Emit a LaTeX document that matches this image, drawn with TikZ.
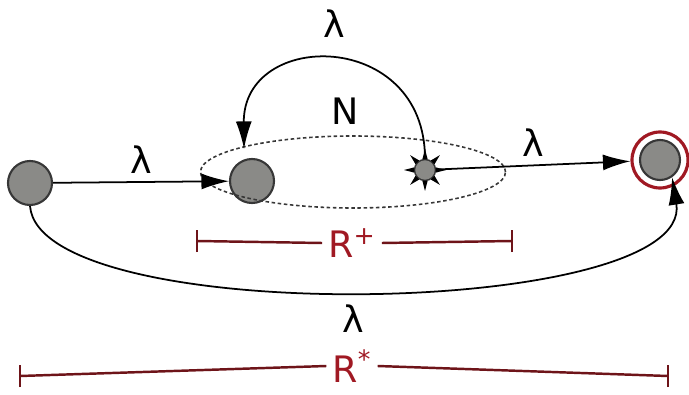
\documentclass[tikz,border=0pt]{standalone}
\usepackage{fontspec}
\setmainfont{DejaVu Sans}
\usepackage{tikz}
\usetikzlibrary{arrows.meta, positioning, calc}
\definecolor{cgray}{RGB}{138,138,135}
\definecolor{cborder}{RGB}{55,55,55}
\definecolor{cred}{RGB}{160,25,35}
\definecolor{cbar}{RGB}{110,20,25}

\begin{document}
\begin{tikzpicture}[
    >={Latex[length=5.5mm, width=3.2mm]},
    state/.style={circle, draw=cborder, line width=1.2pt, fill=cgray, minimum size=0.88cm, inner sep=0pt},
    trans/.style={->, line width=1pt},
    lbl/.style={font=\huge},
    bar/.style={cbar, line width=1.4pt},
]
    \useasboundingbox (0,0) rectangle (13.78,7.88);

    \node[state] (q0) at (0.6, 4.22) {};
    \node[state] (q1) at (5.04, 4.26) {};
    \node[state, minimum size=0.42cm, line width=0.8pt] (qf) at (8.5, 4.48) {};
    \foreach \a in {0,45,...,315}
        \fill ($(qf)+(\a:0.42)$) -- ($(qf)+(\a+14:0.22)$) -- ($(qf)+(\a-14:0.22)$) -- cycle;
    \node[state, minimum size=0.8cm] (qe) at (13.2, 4.68) {};
    \node[circle, draw=cred, line width=1.8pt, minimum size=1.12cm] (ring) at (qe) {};

    \draw[dashed, dash pattern=on 2pt off 1.5pt, line width=0.9pt, cborder] (7.06, 4.44) ellipse (3.05 and 0.72);
    \node[lbl] (nlbl) at (6.9, 5.66) {N};

    \draw[trans] (q0) -- node[lbl, above=1pt] {λ} (q1);
    \draw[trans] (qf) -- node[lbl, above=1pt] {λ} (ring);
    \draw[trans] (qf.north) .. controls (8.5, 7.3) and (4.86, 7.3) .. node[lbl, above=9pt] {λ} ($(q1.north)+(-0.16,0.18)$);
    \draw[trans] (q0.south) .. controls (0.8, 1.3) and (13.9, 1.5) .. node[lbl, below=4pt, pos=0.49] {λ} (qe.-55);

    \node[lbl, cred] (rplus) at (7.04, 3.02) {R\textsuperscript{+}};
    \draw[bar] (3.94, 3.06) -- (rplus.west);
    \draw[bar] (rplus.east) -- (10.24, 3.06);
    \draw[bar] (3.94, 2.84) -- (3.94, 3.28);
    \draw[bar] (10.24, 2.84) -- (10.24, 3.28);

    \node[lbl, cred] (rstar) at (7.04, 0.56) {R\textsuperscript{*}};
    \draw[bar] (0.4, 0.36) -- (rstar.west);
    \draw[bar] (rstar.east) -- (13.36, 0.36);
    \draw[bar] (0.4, 0.14) -- (0.4, 0.58);
    \draw[bar] (13.36, 0.14) -- (13.36, 0.58);
\end{tikzpicture}
\end{document}
